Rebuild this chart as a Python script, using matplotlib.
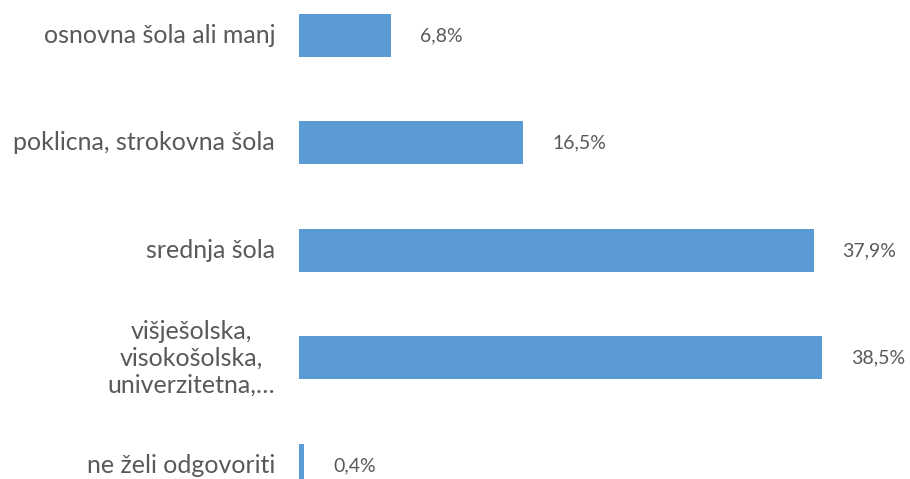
import matplotlib
matplotlib.use("Agg")
import matplotlib.pyplot as plt

# Data
categories = [
    "osnovna šola ali manj",
    "poklicna, strokovna šola",
    "srednja šola",
    "višješolska,\nvisokošolska,\nuniverzitetna,…",
    "ne želi odgovoriti",
]
values = [6.8, 16.5, 37.9, 38.5, 0.4]
value_labels = ["6,8%", "16,5%", "37,9%", "38,5%", "0,4%"]

bar_color = "#5B9BD5"
text_color = "#595959"

plt.rcParams['font.family'] = ['Lato', 'DejaVu Sans']

fig = plt.figure(figsize=(9.1, 4.79), dpi=100)
ax = fig.add_axes([299 / 910, 0, 611 / 910, 1])

y = list(range(len(categories)))
ax.barh(y, values, height=0.4, color=bar_color)

ax.set_xlim(0, 45.0)
ax.set_ylim(4.126, -0.330)

for yi, v, lab in zip(y, values, value_labels):
    ax.annotate(lab, (v, yi), xytext=(29, 0), textcoords="offset pixels",
                ha="left", va="center", fontsize=14, color=text_color)

for yi, cat in zip(y, categories):
    ax.annotate(cat, (0, yi), xytext=(-24, 0), textcoords="offset pixels",
                ha="right", va="center", multialignment="center",
                fontsize=18, color=text_color, linespacing=1.2,
                annotation_clip=False)

ax.set_xticks([])
ax.set_yticks([])
for s in ax.spines.values():
    s.set_visible(False)

fig.savefig("out.png", dpi=100)
